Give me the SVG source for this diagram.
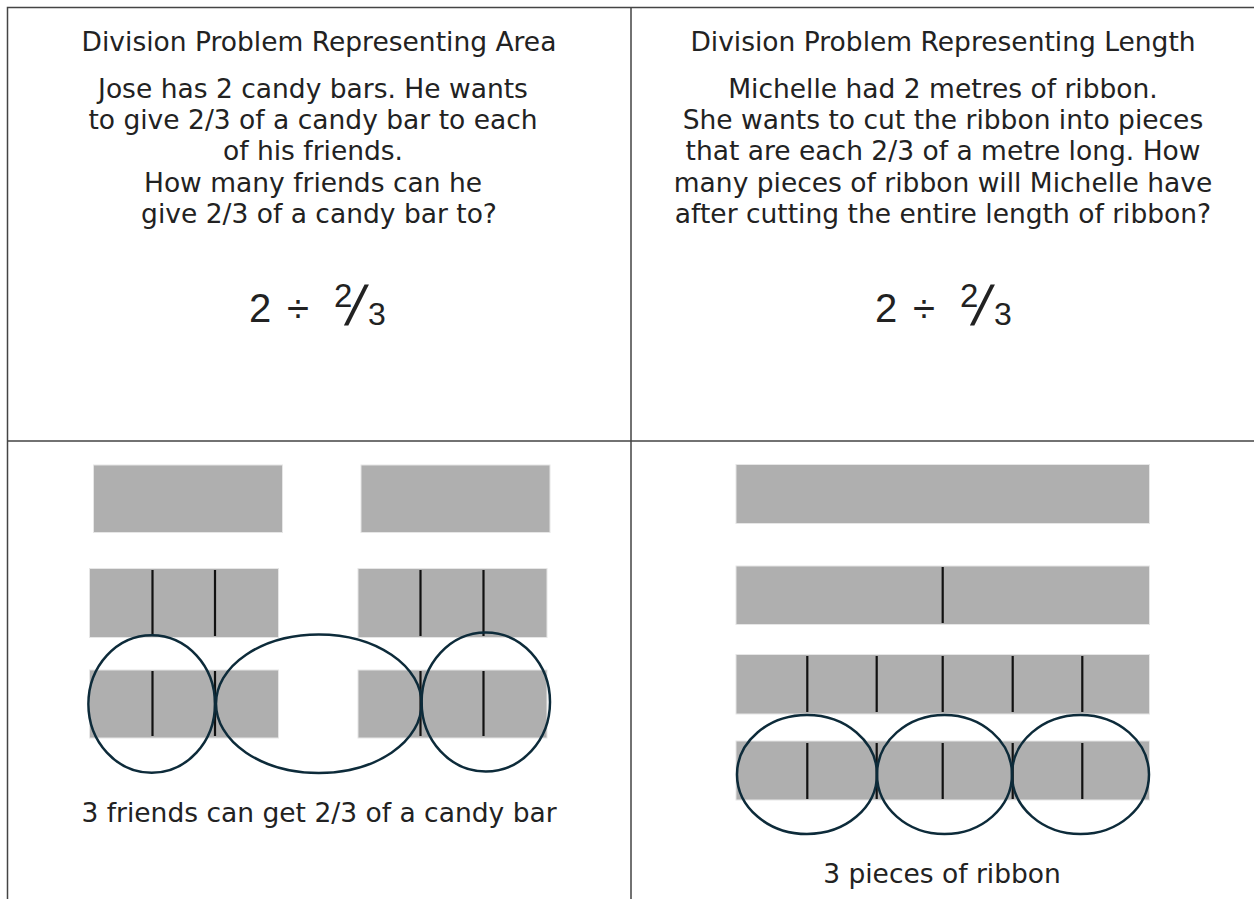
<svg xmlns="http://www.w3.org/2000/svg" width="1255" height="899" viewBox="0 0 1255 899">
<style>
.grid{stroke:#444;stroke-width:1.5;fill:none}
.t{font-family:"DejaVu Sans","Verdana",sans-serif;font-size:26.5px;fill:#222;text-anchor:middle}
.f{font-family:"Liberation Sans",Arial,sans-serif;fill:#222}
.bar{fill:#afafaf;stroke:#e6e6e6;stroke-width:1}
.tick{stroke:#111;stroke-width:2.2}
.ring{fill:none;stroke:#0d2b3a;stroke-width:2.5}
</style>
<rect width="1255" height="899" fill="#fff"/>
<g id="table">
<path class="grid" d="M7.5 899V7.5H1254M631 7.5V899M7.5 441H1254"/>
</g>
<g id="area-problem">
<text class="t" x="319" y="51">Division Problem Representing Area</text>
<text class="t" x="313" y="98">Jose has 2 candy bars. He wants</text>
<text class="t" x="313" y="129">to give 2/3 of a candy bar to each</text>
<text class="t" x="313" y="160">of his friends.</text>
<text class="t" x="313" y="192">How many friends can he</text>
<text class="t" x="319" y="223">give 2/3 of a candy bar to?</text>
<g class="f">
<text x="249" y="322" font-size="40">2</text>
<text x="287" y="322" font-size="40">÷</text>
<text x="334" y="307" font-size="33">2</text>
<text transform="translate(344,325) skewX(-13)" font-size="56">/</text>
<text x="368" y="325" font-size="32">3</text>
</g>
</g>
<g id="length-problem">
<text class="t" x="943" y="51">Division Problem Representing Length</text>
<text class="t" x="943" y="98">Michelle had 2 metres of ribbon.</text>
<text class="t" x="943" y="129">She wants to cut the ribbon into pieces</text>
<text class="t" x="943" y="160">that are each 2/3 of a metre long. How</text>
<text class="t" x="943" y="192">many pieces of ribbon will Michelle have</text>
<text class="t" x="943" y="223">after cutting the entire length of ribbon?</text>
<g class="f">
<text x="875" y="322" font-size="40">2</text>
<text x="913" y="322" font-size="40">÷</text>
<text x="960" y="307" font-size="33">2</text>
<text transform="translate(970,325) skewX(-13)" font-size="56">/</text>
<text x="994" y="325" font-size="32">3</text>
</g>
</g>
<g id="area-model">
<rect class="bar" x="93.5" y="465" width="189" height="67.5"/>
<rect class="bar" x="361" y="465" width="189" height="67.5"/>
<rect class="bar" x="89.5" y="568.5" width="189" height="69"/>
<rect class="bar" x="358" y="568.5" width="189" height="69"/>
<rect class="bar" x="89.5" y="670" width="189" height="68"/>
<rect class="bar" x="358" y="670" width="189" height="68"/>
<path class="tick" d="M152.5 570V636M215 570V636M420.5 570V636M483.5 570V636M152.5 671V736M215 671V736M420.5 671V736M483.5 671V736"/>
<ellipse class="ring" cx="151.7" cy="704" rx="63.3" ry="68.8"/>
<ellipse class="ring" cx="318.8" cy="703.7" rx="102.8" ry="69.3"/>
<ellipse class="ring" cx="485.8" cy="702" rx="64.2" ry="69.5"/>
<text class="t" x="319" y="822">3 friends can get 2/3 of a candy bar</text>
</g>
<g id="length-model">
<rect class="bar" x="736" y="464.5" width="413.5" height="59"/>
<rect class="bar" x="736" y="566" width="413.5" height="58.5"/>
<rect class="bar" x="736" y="654.5" width="413.5" height="59.5"/>
<rect class="bar" x="736" y="741" width="413.5" height="59"/>
<path class="tick" d="M942.7 567V623M807.3 656V712M876.7 656V712M942.7 656V712M1012.7 656V712M1082.3 656V712M807.3 743V799M876.7 743V799M942.7 743V799M1012.7 743V799M1082.3 743V799"/>
<ellipse class="ring" cx="807" cy="774.5" rx="70" ry="59.5"/>
<ellipse class="ring" cx="944.5" cy="774.5" rx="67.5" ry="59.5"/>
<ellipse class="ring" cx="1080.5" cy="774.5" rx="68.5" ry="59.5"/>
<text class="t" x="942" y="883">3 pieces of ribbon</text>
</g>
</svg>
